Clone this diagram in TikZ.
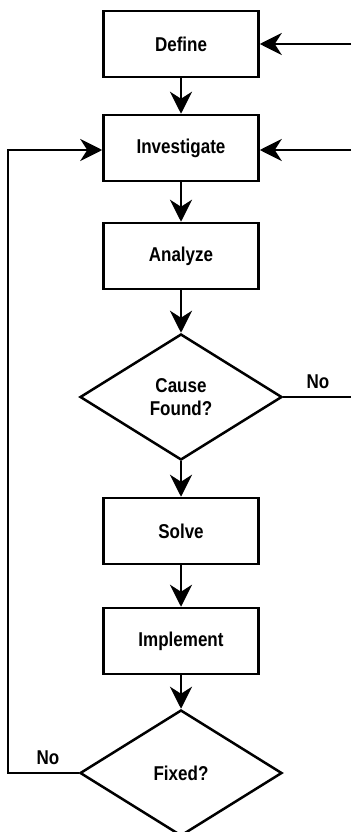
\documentclass[tikz,border=0pt]{standalone}
\usepackage{fontspec}
\setmainfont{Liberation Sans}[FakeStretch=0.85]
\usetikzlibrary{shapes.geometric,arrows.meta}
\tikzset{
  stepbox/.style={draw, line width=2.5pt, minimum width=155pt, minimum height=66pt, inner sep=0pt},
  decision/.style={draw, diamond, line width=2.5pt, minimum width=202pt, minimum height=126pt, inner sep=0pt, align=center},
  flow/.style={line width=2.5pt, -{Stealth[length=22pt,width=22pt,inset=7pt]}},
  plain/.style={line width=2.5pt},
}
\begin{document}
\begin{tikzpicture}[x=1pt, y=-1pt, font=\fontsize{20}{23}\selectfont\bfseries]
    \useasboundingbox (0,0) rectangle (351,832);
    \node[stepbox] (define) at (181,44) {Define};
    \node[stepbox] (investigate) at (181,148) {Investigate};
    \node[stepbox] (analyze) at (181,256) {Analyze};
    \node[decision] (cause) at (181,397) {Cause\\Found?};
    \node[stepbox] (solve) at (181,531) {Solve};
    \node[stepbox] (implement) at (181,641) {Implement};
    \node[decision] (fixed) at (181,773) {Fixed?};
    \coordinate (inA) at (351,44);
    \coordinate (inB) at (351,150);
    \coordinate (noout) at (351,397);
    \coordinate (loop) at (8,773);
    \draw[flow] (define) -- (investigate);
    \draw[flow] (investigate) -- (analyze);
    \draw[flow] (analyze) -- (cause);
    \draw[flow] (cause) -- (solve);
    \draw[flow] (solve) -- (implement);
    \draw[flow] (implement) -- (fixed);
    \draw[flow] (inA) -- (define.east);
    \draw[flow] (inB) -- (investigate.east |- inB);
    \draw[plain] (cause.east) -- (noout);
    \draw[flow] (fixed.west) -- (loop) |- (investigate.west |- inB);
    \node (noA) at (318,382) {No};
    \node (noB) at (48,758) {No};
\end{tikzpicture}
\end{document}
